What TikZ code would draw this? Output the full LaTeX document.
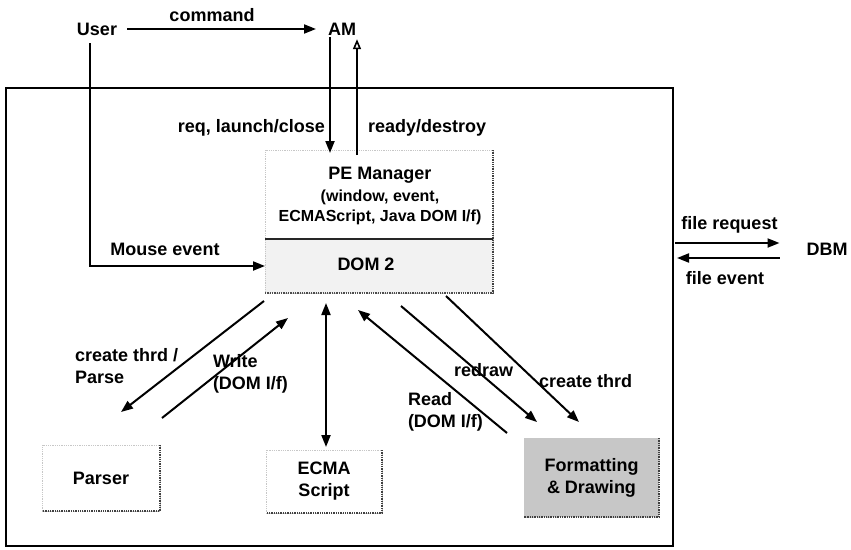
\documentclass[tikz,border=0pt]{standalone}
\usepackage{fontspec}
\setmainfont{Liberation Sans}
\usetikzlibrary{arrows.meta,calc}
\newcommand{\subfont}{\fontsize{16}{20}\selectfont\bfseries}
\begin{document}
\begin{tikzpicture}[x=1pt,y=-1pt,
  every node/.style={font=\fontsize{18}{22}\selectfont\bfseries, inner sep=0pt, outer sep=0pt},
  lbl/.style={anchor=west, align=left},
  flow/.style={line width=2pt, -{Triangle[length=12pt,width=9pt]}},
  both/.style={line width=2pt, {Triangle[length=12pt,width=9pt]}-{Triangle[length=12pt,width=9pt]}},
  reply/.style={line width=1.6pt, -{Triangle[open,length=10pt,width=8pt]}},
  faint/.style={draw=black!22, densely dotted, line width=0.8pt},
  shadeedge/.style={draw=black!75, densely dotted, line width=1.3pt},
  module/.style={faint, fill=white, align=center}
]
\useasboundingbox (0,0) rectangle (851,549);

% outer frame of the presentation engine
\node[draw, line width=1.4pt, minimum width=667, minimum height=458] (frame) at (339.5,317) {};

% external actors
\node (user) at (97,29) {User};
\node (am) at (342,29) {AM};
\node (dbm) at (827,249) {DBM};
\node (cmd) at (212,15) {command};
\draw[flow] ([xshift=10]user.east) -- ([xshift=-12]am.west);

% PE manager with its DOM part
\node[module, minimum width=228, minimum height=89] (pemgr) at (379,194.5) {};
\node[faint, fill=black!5, minimum width=228, minimum height=54] (dom) at (379,266) {};
\draw[shadeedge] (pemgr.north east) -- (dom.south east);
\draw[black!85, line width=1.2pt] (pemgr.south west) -- (pemgr.south east);
\draw[black!70, densely dotted, line width=1.3pt] (dom.south west) -- (dom.south east);
\node (pet) at (380,175) {PE Manager};
\node[font=\subfont] (pes1) at (380,197) {(window, event,};
\node[font=\subfont] (pes2) at (380,217) {ECMAScript, Java DOM I/f)};
\node (domt) at (366,264) {DOM 2};

% worker modules
\node[module, minimum width=118, minimum height=66] (parser) at (101,478) {Parser};
\node[module, minimum width=116, minimum height=63] (ecma) at (324,481.5) {ECMA\\Script};
\node[module, fill=black!22, minimum width=135, minimum height=79] (fmt) at (591.5,477.5) {Formatting\\\& Drawing};
\foreach \n in {parser,ecma,fmt}
  \draw[shadeedge] (\n.north east) -- (\n.south east) -- (\n.south west);

% AM <-> PE manager
\draw[flow] ($(am.south)+(-12,2)$) -- ($(pemgr.north)+(-49,3)$);
\draw[reply] ($(pemgr.north)+(-22,5)$) -- ($(am.south)+(15,4)$);
\node[anchor=east] (reqlbl) at (325,128) {req, launch/close};
\node[anchor=west] (rdylbl) at (368,128) {ready/destroy};

% user mouse input
\draw[flow] ($(user.south)+(-7,8)$) |- (dom.west);
\node (mouselbl) at (165,249) {Mouse event};

% DOM <-> modules
\draw[flow] ($(dom.south west)+(-1,8)$) -- ($(parser.north)+(20,-33)$);
\draw[flow] ($(parser.north)+(61,-27)$) -- ($(dom.south west)+(23,25)$);
\draw[both] ($(dom.south west)+(61,10)$) -- ($(ecma.north)+(2,-3)$);
\draw[flow] ($(fmt.north west)+(-17,-5)$) -- ($(dom.south west)+(93,17)$);
\draw[flow] ($(dom.south west)+(136,13)$) -- ($(fmt.north west)+(13,-16)$);
\draw[flow] ($(dom.south west)+(181,3)$) -- ($(fmt.north west)+(55,-16)$);

\node[lbl] (parselbl) at (75,366) {create thrd /\\Parse};
\node[lbl] (writelbl) at (213,374) {Write\\(DOM I/f)};
\node[lbl] (readlbl) at (408,412) {Read\\(DOM I/f)};
\node[lbl] (redrawlbl) at (454,370) {redraw};
\node[lbl] (thrdlbl) at (539,381) {create thrd};

% file traffic with the DBM
\coordinate (fq) at (675,243);
\coordinate (fe) at (677,258);
\draw[flow] (fq) -- ($(dbm.west)+(-27,-6)$);
\draw[flow] ($(dbm.west)+(-27,9)$) -- (fe);
\node (fqlbl) at (729.5,225) {file request};
\node (felbl) at (725,278) {file event};
\end{tikzpicture}
\end{document}
